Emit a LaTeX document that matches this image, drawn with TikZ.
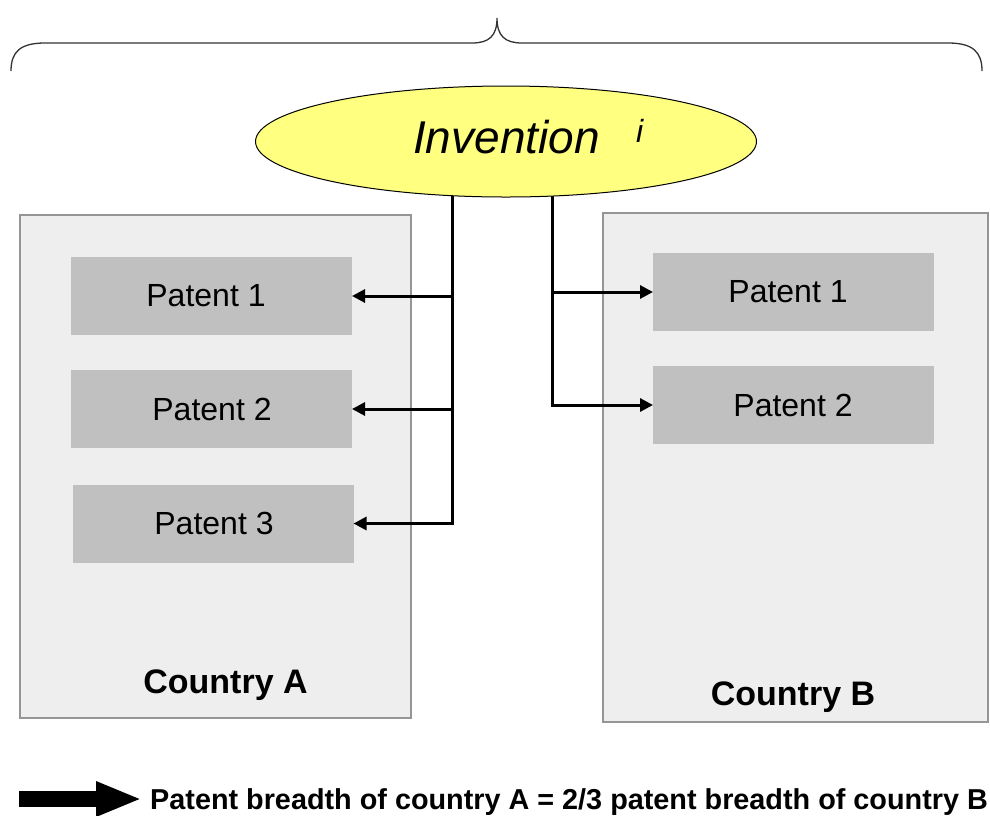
\documentclass[tikz,border=0pt]{standalone}
\usepackage{fontspec}
\setmainfont{Liberation Sans}
\usetikzlibrary{shapes.geometric,arrows.meta}
\definecolor{countryfill}{HTML}{EEEEEE}
\definecolor{countryline}{HTML}{959595}
\definecolor{patentfill}{HTML}{C0C0C0}
\definecolor{invfill}{HTML}{FFFF80}
\tikzset{
  country/.style={draw=countryline, line width=1.6pt, fill=countryfill, inner sep=0pt, outer sep=0pt, anchor=north west},
  patent/.style={fill=patentfill, inner sep=0pt, outer sep=0pt, minimum width=281pt, minimum height=78pt},
  ptext/.style={anchor=center, inner sep=0pt, font=\fontsize{32}{38}\selectfont},
  conn/.style={line width=3pt, -{Triangle[length=13pt,width=13pt]}},
  clabel/.style={anchor=base, font=\fontsize{34}{40}\selectfont\bfseries},
}
\begin{document}
\begin{tikzpicture}[x=1pt,y=-1pt]
\useasboundingbox (0,0) rectangle (990,815);
% brace
\draw[line width=1.3pt, black!80] (11,71) .. controls (11,52) and (20,43) .. (45,43) -- (472,43)
  .. controls (489,43) and (497,36) .. (497,18)
  .. controls (497,36) and (505,43) .. (522,43) -- (948,43)
  .. controls (973,43) and (982,52) .. (982,71);
% country boxes
\node[country, minimum width=391pt, minimum height=503pt] (A) at (20,215) {};
\node[country, minimum width=385pt, minimum height=509pt] (B) at (603,213) {};
% patents
\node[patent] (a1) at (211.5,296) {};
\node[patent] (a2) at (211.5,409) {};
\node[patent] (a3) at (213,523.5) {};
\node[patent] (b1) at (793.5,292) {};
\node[patent] (b2) at (793.5,405) {};
\node[ptext] (ta1) at (206,296) {Patent 1};
\node[ptext] (ta2) at (212,409) {Patent 2};
\node[ptext] (ta3) at (214,523.5) {Patent 3};
\node[ptext] (tb1) at (788,292) {Patent 1};
\node[ptext] (tb2) at (793,405) {Patent 2};
% country labels
\node[clabel] (la) at (225.5,693) {Country A};
\node[clabel] (lb) at (793,705) {Country B};
% connectors
\coordinate (jl) at (452,175);
\coordinate (jr) at (552,175);
\draw[conn] (jl) |- (a3.east);
\draw[conn] (jl |- a1.east) -- (a1.east);
\draw[conn] (jl |- a2.east) -- (a2.east);
\draw[conn] (jr) |- (b2.west);
\draw[conn] (jr |- b1.west) -- (b1.west);
% invention ellipse
\node[ellipse, draw=black, line width=1pt, fill=invfill, minimum width=501pt, minimum height=111pt, inner sep=0pt] (inv) at (506,141.5) {};
\node[anchor=base west, inner sep=0pt, font=\fontsize{46}{52}\selectfont\itshape] (invt) at (413,153) {Invention};
\node[anchor=base west, inner sep=0pt, font=\fontsize{32}{38}\selectfont\itshape] (invi) at (636,142) {i};
% legend
\coordinate (ls) at (19,799);
\coordinate (le) at (142,799);
\draw[line width=16pt, -{Triangle[length=46pt,width=32pt]}] (ls) -- (le);
\node[anchor=base west, inner sep=0pt, font=\fontsize{28.8}{34}\selectfont\bfseries] (leg) at (150,809) {Patent breadth of country A = 2/3 patent breadth of country B};
\end{tikzpicture}
\end{document}
